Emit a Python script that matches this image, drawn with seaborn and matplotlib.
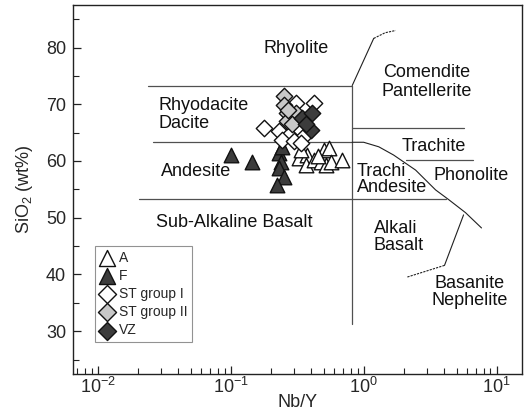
import numpy as np
import pandas as pd
import matplotlib
matplotlib.use("Agg")
import matplotlib.pyplot as plt
from matplotlib.ticker import LogLocator, MultipleLocator, NullFormatter
import seaborn as sns

# --- sample data: Nb/Y ratio and SiO2 (wt%) ---
a_nby = [0.325, 0.373, 0.366, 0.421, 0.500, 0.546, 0.475, 0.518, 0.565, 0.684, 0.336, 0.45]
a_sio2 = [60.5, 61.1, 59.3, 60.2, 61.9, 62.3, 59.8, 59.3, 59.8, 60.2, 62.0, 60.8]

f_nby = [0.100, 0.144, 0.230, 0.238, 0.230, 0.250, 0.222, 0.242]
f_sio2 = [61.1, 59.8, 61.4, 59.8, 58.8, 57.2, 55.8, 62.5]

st1_nby = [0.177, 0.308, 0.421, 0.230, 0.313, 0.273, 0.354, 0.242, 0.298, 0.336]
st1_sio2 = [65.8, 70.2, 70.2, 65.3, 65.8, 64.6, 64.4, 63.7, 63.5, 63.2]

st2_nby = [0.250, 0.250, 0.264, 0.264, 0.308, 0.290, 0.270]
st2_sio2 = [71.4, 69.8, 68.4, 67.0, 68.4, 66.5, 69.0]

vz_nby = [0.342, 0.406, 0.400, 0.370]
vz_sio2 = [67.5, 68.4, 65.4, 66.5]

groups = ["A", "F", "ST group I", "ST group II", "VZ"]

sns.set_style("ticks")
plt.rcParams["font.family"] = ["Liberation Sans", "DejaVu Sans"]
plt.rcParams["mathtext.fontset"] = "custom"
plt.rcParams["mathtext.rm"] = "Liberation Sans"
plt.rcParams["mathtext.it"] = "Liberation Sans:italic"

fig = plt.figure(figsize=(5.26, 4.13), dpi=100)
ax = fig.add_axes([0.139, 0.095, 0.853, 0.893])

# --- classification field boundaries ---
line_kw = dict(color="#505050", lw=0.9, zorder=1)
curve_kw = dict(color="#202020", lw=0.8, zorder=1)

ax.plot([0.024, 0.82], [73.3, 73.3], **line_kw)
ax.plot([0.026, 0.82], [63.3, 63.3], **line_kw)
ax.plot([0.0203, 4.14], [53.3, 53.3], **line_kw)
ax.plot([0.82, 0.82], [73.3, 31.2], **line_kw)
ax.plot([0.82, 5.65], [65.8, 65.8], **line_kw)
ax.plot([2.07, 6.7], [60.2, 60.2], **line_kw)

# rhyolite / comendite boundary
ax.plot([0.82, 1.19], [73.3, 81.6], **curve_kw)
ax.plot([1.19, 1.45, 1.74], [81.6, 82.6, 83.0], ls=(0, (2, 1)), **curve_kw)

# trachyandesite / phonolite curve
cx = [0.82, 1.0, 1.30, 1.68, 2.46, 3.48, 4.36, 5.84, 7.71]
cy = [63.3, 63.3, 62.5, 61.05, 58.4, 54.9, 53.2, 50.9, 48.2]
ax.plot(cx, cy, **curve_kw)

# alkali basalt / basanite boundary
ax.plot([5.65, 4.06], [50.5, 41.6], **curve_kw)
ax.plot([4.06, 2.10], [41.6, 39.5], ls=(0, (2, 1)), **curve_kw)

# --- field names ---
tk = dict(fontsize=13, color="#111111", zorder=2)
ax.text(0.308, 79.8, "Rhyolite", ha="center", va="center", **tk)
ax.text(2.97, 73.9, "Comendite\nPantellerite", ha="center", va="center",
        linespacing=1.2, **tk)
ax.text(0.0288, 68.2, "Rhyodacite\nDacite", ha="left", va="center",
        linespacing=1.05, **tk)
ax.text(0.030, 58.1, "Andesite", ha="left", va="center", **tk)
ax.text(3.36, 62.6, "Trachite", ha="center", va="center", **tk)
ax.text(0.886, 56.7, "Trachi\nAndesite", ha="left", va="center",
        linespacing=0.95, **tk)
ax.text(6.49, 57.5, "Phonolite", ha="center", va="center", **tk)
ax.text(0.107, 49.1, "Sub-Alkaline Basalt", ha="center", va="center", **tk)
ax.text(1.19, 46.6, "Alkali\nBasalt", ha="left", va="center",
        linespacing=1.05, **tk)
ax.text(6.27, 36.9, "Basanite\nNephelite", ha="center", va="center",
        linespacing=1.05, **tk)

# --- samples ---
series = [
    (a_nby, a_sio2, "^", "white", 110),
    (f_nby, f_sio2, "^", "#3c3c3c", 110),
    (st1_nby, st1_sio2, "D", "white", 70),
    (st2_nby, st2_sio2, "D", "#c8c8c8", 70),
    (vz_nby, vz_sio2, "D", "#3c3c3c", 70),
]
for name, (xs, ys, mk, fc, sz) in zip(groups, series):
    df = pd.DataFrame({"Nb/Y": xs, "SiO2": ys})
    sns.scatterplot(data=df, x="Nb/Y", y="SiO2", marker=mk, color=fc,
                    edgecolor="#111111", linewidth=1.0, s=sz, ax=ax,
                    label=name, zorder=3)

ax.set_xscale("log")
ax.set_xlim(0.0065, 15.5)
ax.set_ylim(22.5, 87.5)
ax.yaxis.set_major_locator(MultipleLocator(10))
ax.yaxis.set_minor_locator(MultipleLocator(5))
ax.xaxis.set_major_locator(LogLocator(base=10, numticks=10))
ax.xaxis.set_minor_locator(LogLocator(base=10, subs=np.arange(2, 10), numticks=20))
ax.xaxis.set_minor_formatter(NullFormatter())
ax.set_yticks([30, 40, 50, 60, 70, 80])

ax.tick_params(axis="both", which="both", direction="in", top=False, right=False,
               labelsize=13, color="#222222")
ax.tick_params(axis="both", which="major", length=6, width=0.9)
ax.tick_params(axis="x", which="major", pad=2)
ax.tick_params(axis="y", which="major", pad=5)
ax.tick_params(axis="both", which="minor", length=4, width=0.8)
for sp in ax.spines.values():
    sp.set_visible(True)
    sp.set_linewidth(1.0)
    sp.set_color("#222222")

ax.set_xlabel("Nb/Y", fontsize=13, labelpad=-2)
ax.set_ylabel("SiO$_2$ (wt%)", fontsize=13, labelpad=8)

leg = ax.legend(loc="lower left", bbox_to_anchor=(0.049, 0.086), borderaxespad=0,
                fontsize=10, frameon=True, fancybox=False, edgecolor="#777777",
                labelspacing=0.3, handletextpad=0.35, handlelength=1.0,
                borderpad=0.35, markerscale=1.1)
leg.get_frame().set_linewidth(0.8)

fig.savefig("out.png", dpi=100)
